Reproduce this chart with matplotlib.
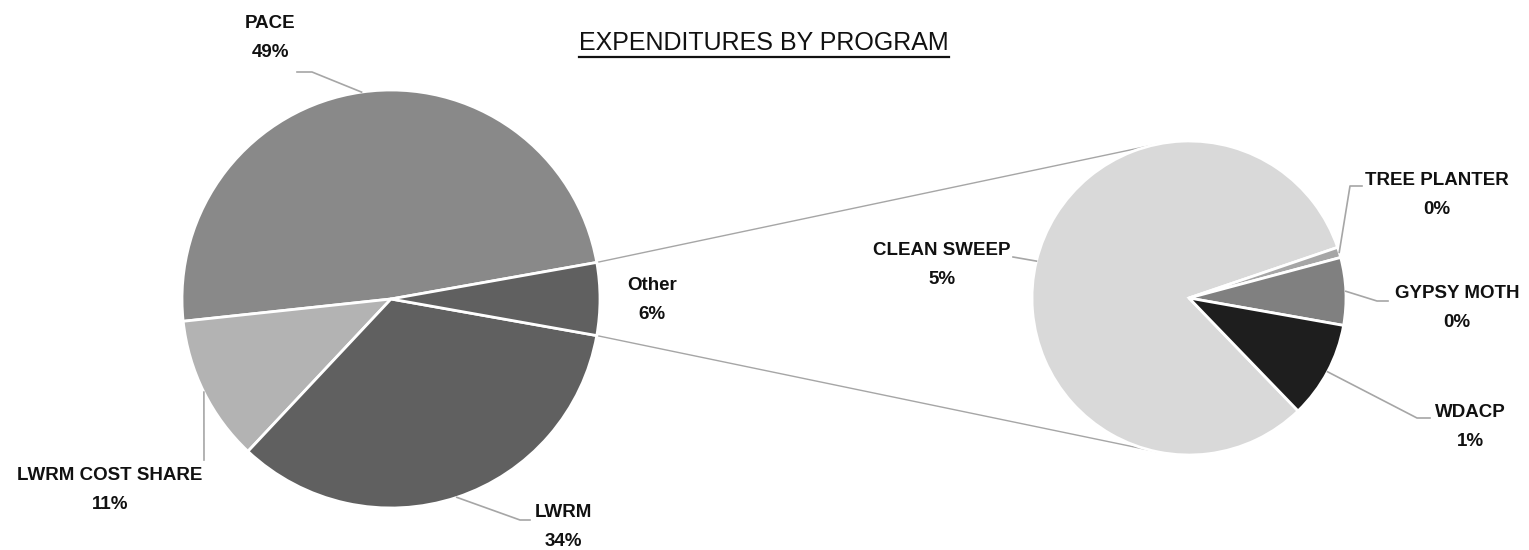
import numpy as np
import matplotlib.pyplot as plt
from matplotlib import font_manager

# DATOS (porcentaje del total)
programas = ["PACE", "LWRM COST SHARE", "LWRM", "Other"]
gastos = [48.9, 11.3, 34.2, 5.6]
colores = ["#898989", "#b3b3b3", "#606060", "#606060"]

otros = ["CLEAN SWEEP", "TREE PLANTER", "GYPSY MOTH", "WDACP"]
gastos_otros = [4.6, 0.06, 0.39, 0.56]
colores_otros = ["#d9d9d9", "#a6a6a6", "#808080", "#1e1e1e"]

titulo = "EXPENDITURES BY PROGRAM"

# FUENTES
disponibles = {f.name for f in font_manager.fontManager.ttflist}
fuente = "Liberation Sans" if "Liberation Sans" in disponibles else "DejaVu Sans"

W, H = 1529, 550


def py(y):
    """Pixel y (desde arriba) a coordenada de datos."""
    return H - y


fig = plt.figure(figsize=(W / 100, H / 100), dpi=100)
ax = fig.add_axes([0, 0, 1, 1])

# pastel principal
c1, r1 = (391, py(299)), 209
inicio = 360 * gastos[-1] / sum(gastos) / 2
w1, _ = ax.pie(gastos, colors=colores, startangle=inicio, center=c1, radius=r1,
               wedgeprops=dict(edgecolor="white", linewidth=2))

# pastel secundario
c2, r2 = (1189, py(298)), 157
w2, _ = ax.pie(gastos_otros, colors=colores_otros, startangle=-46, counterclock=False,
               center=c2, radius=r2, wedgeprops=dict(edgecolor="white", linewidth=2))

ax.set_xlim(0, W)
ax.set_ylim(0, H)
ax.set_aspect("equal")
ax.axis("off")

# lineas de conexion (Other -> pastel secundario, tangentes)
otro = w1[-1]
C2 = np.array(c2, dtype=float)
for ang, signo in [(otro.theta2, 1), (otro.theta1, -1)]:
    p = np.array(c1) + r1 * np.array([np.cos(np.radians(ang)), np.sin(np.radians(ang))])
    d = p - C2
    base = np.degrees(np.arctan2(d[1], d[0]))
    delta = np.degrees(np.arccos(r2 / np.hypot(*d)))
    t = np.radians(base - signo * delta)
    q = C2 + r2 * np.array([np.cos(t), np.sin(t)])
    ax.plot([p[0], q[0]], [p[1], q[1]], color="#a6a6a6", linewidth=1, zorder=0)


def borde(w):
    ang = np.radians((w.theta1 + w.theta2) / 2)
    return (w.center[0] + w.r * np.cos(ang), w.center[1] + w.r * np.sin(ang))


# posiciones de etiquetas (pixeles) y quiebres de las guias
pos_main = {
    "PACE": ((270, 38), [(312, 72), (297, 72)]),
    "LWRM COST SHARE": ((110, 490), [(204, 460)]),
    "LWRM": ((563, 527), [(520, 520), (530, 520)]),
    "Other": ((652, 300), []),
}
pos_otros = {
    "CLEAN SWEEP": ((942, 265), [(1013, 257)]),
    "TREE PLANTER": ((1437, 195), [(1350, 186), (1362, 186)]),
    "GYPSY MOTH": ((1457, 308), [(1377, 301), (1388, 301)]),
    "WDACP": ((1470, 427), [(1417, 418), (1430, 418)]),
}

total = sum(gastos)
for nombres, valores, cunas, pos in [(programas, gastos, w1, pos_main),
                                     (otros, gastos_otros, w2, pos_otros)]:
    for nombre, v, w in zip(nombres, valores, cunas):
        (tx, ty), quiebres = pos[nombre]
        ax.text(tx, py(ty), f"{nombre}\n{100 * v / total:.0f}%", ha="center", va="center",
                fontsize=13.5, fontweight="bold", family=fuente, color="#111111",
                linespacing=1.95)
        if quiebres:
            x0, y0 = borde(w)
            xs = [x0] + [q[0] for q in quiebres]
            ys = [y0] + [py(q[1]) for q in quiebres]
            ax.plot(xs, ys, color="#a6a6a6", linewidth=1.2)

# titulo subrayado
t = ax.text(764, py(43), titulo, ha="center", va="center", fontsize=18,
            family=fuente, color="#111111")
fig.canvas.draw()
bb = t.get_window_extent()
ax.plot([bb.x0, bb.x1], [bb.y0 - 2, bb.y0 - 2], color="#111111", linewidth=1.6)

fig.savefig("out.png", dpi=100)
